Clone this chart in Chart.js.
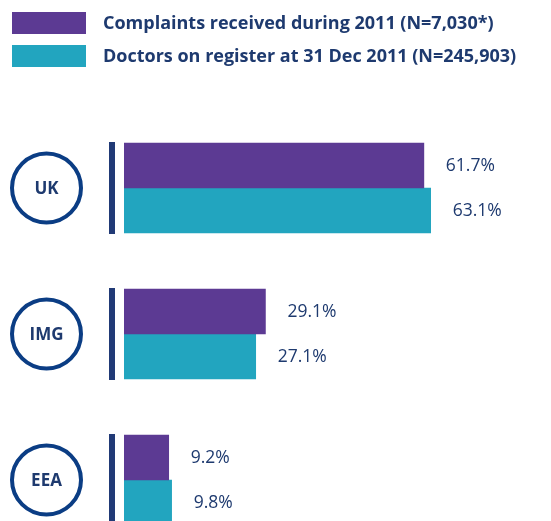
<!DOCTYPE html>
<html>
<head>
<meta charset="utf-8">
<script src="https://cdn.jsdelivr.net/npm/chart.js@4"></script>
<style>
  html, body { margin: 0; padding: 0; background: #fff; overflow: hidden; }
  #wrap { position: relative; width: 551px; height: 560px; }
</style>
</head>
<body>
<div id="wrap"><canvas id="grafico"></canvas></div>
<script>
// data
const regioes = ['UK', 'IMG', 'EEA'];
const legendas = [
    'Complaints received during 2011 (N=7,030*)',
    'Doctors on register at 31 Dec 2011 (N=245,903)'
];
const queixas = [61.7, 29.1, 9.2];
const medicos = [63.1, 27.1, 9.8];

const roxo = '#5c3a93';
const azul = '#22a5bf';
const marinho = '#1e3a6f';
const circulo = '#0b3d84';
const fonte = '"Open Sans", "Noto Sans", sans-serif';

// desenha circulos, linha vertical, valores e legenda
const extras = {
    id: 'extras',
    afterDatasetsDraw(chart) {
        const ctx = chart.ctx;
        const y = chart.scales.y;
        ctx.save();

        regioes.forEach((r, i) => {
            const cy = y.getPixelForValue(i);
            // linha vertical
            ctx.fillStyle = '#213a76';
            ctx.fillRect(109, cy - 46, 6, 92);
            // circulo
            ctx.beginPath();
            ctx.arc(46.5, cy, 34.5, 0, Math.PI * 2);
            ctx.lineWidth = 4;
            ctx.strokeStyle = circulo;
            ctx.stroke();
            ctx.fillStyle = marinho;
            ctx.font = 'bold 17px ' + fonte;
            ctx.textAlign = 'center';
            ctx.textBaseline = 'middle';
            ctx.fillText(r, 46.5, cy + 1);
        });

        // valores
        ctx.font = '17.5px ' + fonte;
        ctx.textAlign = 'left';
        ctx.textBaseline = 'middle';
        ctx.fillStyle = marinho;
        chart.data.datasets.forEach((ds, di) => {
            chart.getDatasetMeta(di).data.forEach((bar, i) => {
                ctx.fillText(ds.data[i].toFixed(1) + '%', bar.x + 22, bar.y + 1);
            });
        });

        // legenda
        ctx.font = 'bold 18px ' + fonte;
        chart.data.datasets.forEach((ds, di) => {
            const ly = 12 + di * 33;
            ctx.fillStyle = ds.backgroundColor;
            ctx.fillRect(12, ly, 74, 22);
            ctx.fillStyle = marinho;
            ctx.fillText(ds.label, 103, ly + 12);
        });

        ctx.restore();
    }
};

new Chart(document.getElementById('grafico'), {
    type: 'bar',
    data: {
        labels: regioes,
        datasets: [
            { label: legendas[0], data: queixas, backgroundColor: roxo, barThickness: 45 },
            { label: legendas[1], data: medicos, backgroundColor: azul, barThickness: 45 }
        ]
    },
    options: {
        indexAxis: 'y',
        responsive: true,
        maintainAspectRatio: false,
        animation: false,
        layout: { padding: { top: 115, left: 124, right: 38.2, bottom: 7 } },
        scales: {
            x: { display: false, min: 0, max: 80 },
            y: { display: false }
        },
        plugins: {
            legend: { display: false },
            tooltip: { enabled: false }
        }
    },
    plugins: [extras]
});
</script>
</body>
</html>
